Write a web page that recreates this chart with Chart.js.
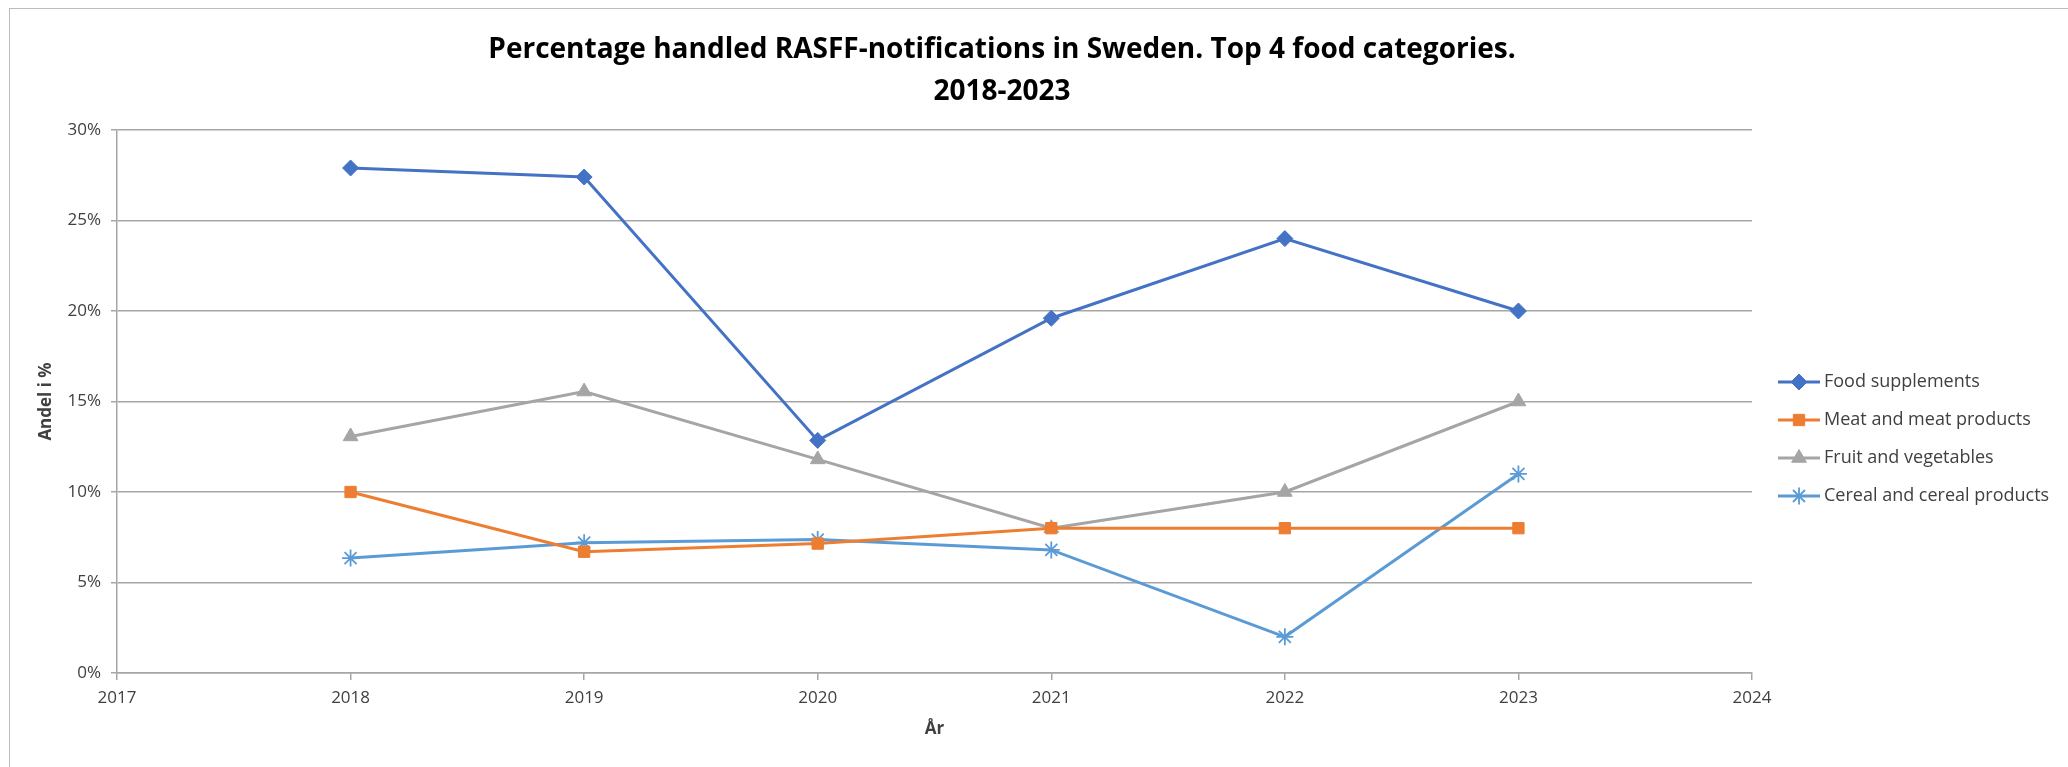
<!DOCTYPE html>
<html>
<head>
<meta charset="utf-8">
<script src="https://cdn.jsdelivr.net/npm/chart.js@4/dist/chart.umd.min.js"></script>
<style>
  html, body { margin: 0; padding: 0; background: #fff; overflow: hidden; }
  #frame { position: absolute; left: 9px; top: 8px; width: 2100px; height: 800px; border: 1px solid #bcbcbc; }
  #myLineChart { position: absolute; left: 0; top: 0; }
</style>
</head>
<body>
<div id="frame"></div>
<canvas id="myLineChart" width="2068" height="767"></canvas>
<script>
// Years on the x axis
const years = [2018, 2019, 2020, 2021, 2022, 2023];

// Share of handled notifications, in %
const foodSupplements = [27.9, 27.4, 12.85, 19.6, 24.0, 20.0];
const meatProducts = [10.0, 6.7, 7.15, 8.0, 8.0, 8.0];
const fruitVegetables = [13.07, 15.55, 11.8, 8.0, 10.0, 15.0];
const cerealProducts = [6.35, 7.2, 7.37, 6.8, 2.0, 11.0];

const seriesNames = [
    'Food supplements',
    'Meat and meat products',
    'Fruit and vegetables',
    'Cereal and cereal products'
];

const yTicks = [0, 5, 10, 15, 20, 25, 30];

function toPoints(values) {
    return values.map((v, i) => ({ x: years[i], y: v }));
}

function makeSet(label, values, color, style, radius) {
    return {
        label: label,
        data: toPoints(values),
        borderColor: color,
        backgroundColor: color,
        pointBackgroundColor: color,
        pointBorderColor: color,
        borderWidth: 3,
        pointStyle: style,
        pointRadius: radius,
        pointHoverRadius: radius,
        pointBorderWidth: style === 'star' ? 1.8 : 1,
        tension: 0
    };
}

const data = {
    datasets: [
        makeSet(seriesNames[0], foodSupplements, '#4472C4', 'rectRot', 8),
        makeSet(seriesNames[1], meatProducts, '#ED7D31', 'rect', 8),
        makeSet(seriesNames[2], fruitVegetables, '#A5A5A5', 'triangle', 8.5),
        makeSet(seriesNames[3], cerealProducts, '#5B9BD5', 'star', 8.5)
    ]
};

// legend drawn beside the plot: short line with the marker in the middle
const sideLegend = {
    id: 'sideLegend',
    afterDraw(chart) {
        const ctx = chart.ctx;
        const x0 = chart.chartArea.right + 26;
        const top = 382;
        chart.data.datasets.forEach((ds, i) => {
            const y = top + i * 38;
            ctx.save();
            ctx.strokeStyle = ds.borderColor;
            ctx.lineWidth = ds.borderWidth;
            ctx.beginPath();
            ctx.moveTo(x0, y);
            ctx.lineTo(x0 + 42, y);
            ctx.stroke();
            ctx.fillStyle = ds.pointBackgroundColor;
            ctx.strokeStyle = ds.pointBorderColor;
            ctx.lineWidth = ds.pointBorderWidth;
            Chart.helpers.drawPoint(ctx, {
                pointStyle: ds.pointStyle,
                radius: ds.pointRadius,
                borderWidth: ds.pointBorderWidth,
                rotation: 0
            }, x0 + 21, y);
            ctx.fillStyle = '#404040';
            ctx.font = '18px "Open Sans"';
            ctx.textBaseline = 'middle';
            ctx.textAlign = 'left';
            ctx.fillText(ds.label, x0 + 46, y);
            ctx.restore();
        });
    }
};

const config = {
    type: 'line',
    data: data,
    options: {
        responsive: false,
        devicePixelRatio: 1,
        animation: false,
        layout: {
            padding: { left: 0, right: 64, top: 29, bottom: 0 }
        },
        plugins: {
            legend: { display: false },
            tooltip: { enabled: false },
            title: {
                display: true,
                text: ['Percentage handled RASFF-notifications in Sweden. Top 4 food categories.', '2018-2023'],
                color: '#000',
                font: { family: 'Open Sans', size: 28, weight: 'bold', lineHeight: 1.5 },
                padding: { top: 0, bottom: 17 }
            }
        },
        scales: {
            x: {
                type: 'linear',
                min: 2017,
                max: 2024,
                afterFit: s => { s.height = 94; },
                afterBuildTicks: s => { s.ticks = [2017, 2018, 2019, 2020, 2021, 2022, 2023, 2024].map(v => ({ value: v })); },
                ticks: {
                    callback: v => String(v),
                    color: '#404040',
                    font: { family: 'Open Sans', size: 17 },
                    padding: 8,
                    maxRotation: 0
                },
                grid: { drawOnChartArea: false, drawTicks: true, tickLength: 7, color: '#a6a6a6', lineWidth: 1.5 },
                border: { display: true, color: '#a6a6a6', width: 1.5 },
                title: {
                    display: true,
                    text: 'År',
                    color: '#404040',
                    font: { family: 'Open Sans', size: 17, weight: 'bold' },
                    padding: { top: 0, bottom: 28 }
                }
            },
            y: {
                min: 0,
                max: 30,
                afterFit: s => { s.width = 117; },
                afterBuildTicks: s => { s.ticks = yTicks.map(v => ({ value: v })); },
                ticks: {
                    callback: v => v + '%',
                    color: '#404040',
                    font: { family: 'Open Sans', size: 17 },
                    padding: 10
                },
                grid: { drawTicks: true, tickLength: 6, color: '#a6a6a6', lineWidth: 1.5 },
                border: { display: true, color: '#a6a6a6', width: 1.5 },
                title: {
                    display: true,
                    text: 'Andel i %',
                    color: '#404040',
                    font: { family: 'Open Sans', size: 17, weight: 'bold' },
                    padding: { top: 36, bottom: 0 }
                }
            },
            // empty scale on the right keeps room for the legend
            legendSpace: {
                type: 'linear',
                position: 'right',
                display: true,
                afterFit: s => { s.width = 252; },
                ticks: { display: false },
                grid: { display: false },
                border: { display: false }
            }
        }
    },
    plugins: [sideLegend]
};

window.onload = function() {
    const ctx = document.getElementById('myLineChart').getContext('2d');
    new Chart(ctx, config);
};
</script>
</body>
</html>
